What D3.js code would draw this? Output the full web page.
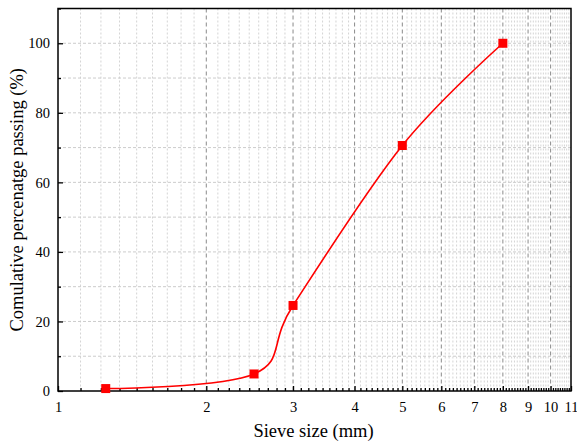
<!DOCTYPE html>
<html>
<head>
<meta charset="utf-8">
<script src="https://cdn.jsdelivr.net/npm/d3@7/dist/d3.min.js"></script>
<style>
  body { margin: 0; background: #fff; }
  svg { display: block; }
  text { font-family: "Liberation Serif", "Times New Roman", serif; fill: #000; }
</style>
</head>
<body>
<svg id="chart" width="577" height="445"></svg>
<script>
// Data
const sieveSizes = [1.25, 2.5, 3, 5, 8];
const passing = [0.7, 4.9, 24.6, 70.6, 100];
const xTickValues = [1, 2, 3, 4, 5, 6, 7, 8, 9, 10, 11];
const yTickValues = [0, 20, 40, 60, 80, 100];
const yMinorValues = [10, 30, 50, 70, 90, 110];
const xLabel = "Sieve size (mm)";
const yLabel = "Comulative percenatge passing (%)";

const W = 577, H = 445;
const margin = { left: 58, right: 6, top: 8.5, bottom: 54 };
const iw = W - margin.left - margin.right;
const ih = H - margin.top - margin.bottom;

const svg = d3.select("#chart");
const g = svg.append("g").attr("transform", `translate(${margin.left},${margin.top})`);

const x = d3.scaleLog().domain([1, 11]).range([0, iw]);
const y = d3.scaleLinear().domain([0, 110]).range([ih, 0]);

// minor x ticks: 8 per interval between integers
const xMinor = [];
for (let v = 1; v < 11; v++) for (let k = 1; k <= 8; k++) xMinor.push(v + k / 9);

// grid
g.append("g").selectAll("line").data(xMinor).join("line")
  .attr("x1", d => x(d)).attr("x2", d => x(d)).attr("y1", 0).attr("y2", ih)
  .attr("stroke", "#d4d4d4").attr("stroke-width", 1).attr("stroke-dasharray", "2,2");
g.append("g").selectAll("line").data(yTickValues.concat(yMinorValues).filter(d => d > 0 && d < 110)).join("line")
  .attr("x1", 0).attr("x2", iw).attr("y1", d => y(d)).attr("y2", d => y(d))
  .attr("stroke", "#cccccc").attr("stroke-width", 1).attr("stroke-dasharray", "3,2");
g.append("g").selectAll("line").data(xTickValues.filter(d => d > 1 && d < 11)).join("line")
  .attr("x1", d => x(d)).attr("x2", d => x(d)).attr("y1", 0).attr("y2", ih)
  .attr("stroke", "#8a8a8a").attr("stroke-width", 1).attr("stroke-dasharray", "4,3");

// axes
const xAxis = d3.axisBottom(x).tickValues(xTickValues).tickFormat(d3.format("d")).tickSizeInner(-5).tickSizeOuter(0).tickPadding(10.5);
const xAxisMinor = d3.axisBottom(x).tickValues(xMinor).tickFormat("").tickSizeInner(-3).tickSizeOuter(0);
const yAxis = d3.axisLeft(y).tickValues(yTickValues).tickFormat(d3.format("d")).tickSizeInner(-5).tickSizeOuter(0).tickPadding(8);
const yAxisMinor = d3.axisLeft(y).tickValues(yMinorValues).tickFormat("").tickSizeInner(-3).tickSizeOuter(0);

function styleAxis(sel) {
  sel.select(".domain").remove();
  sel.selectAll("line").attr("stroke", "#000").attr("stroke-width", 1.3);
  sel.selectAll("text").attr("font-size", 14.5).attr("font-family", '"Liberation Serif", serif');
}
g.append("g").attr("transform", `translate(0,${ih})`).call(xAxisMinor).call(styleAxis);
g.append("g").attr("transform", `translate(0,${ih})`).call(xAxis).call(styleAxis);
g.append("g").call(yAxisMinor).call(styleAxis);
g.append("g").call(yAxis).call(styleAxis);

// frame
g.append("rect").attr("x", 0).attr("y", 0).attr("width", iw).attr("height", ih)
  .attr("fill", "none").attr("stroke", "#000").attr("stroke-width", 1.5);

// curve
const pts = sieveSizes.map((s, i) => [s, passing[i]]);
const line = d3.line().x(d => x(d[0])).y(d => y(d[1])).curve(d3.curveCardinal.tension(0));
g.append("path").datum(pts).attr("d", line)
  .attr("fill", "none").attr("stroke", "#ff0000").attr("stroke-width", 1.6);

// markers
g.append("g").selectAll("rect").data(pts).join("rect")
  .attr("x", d => x(d[0]) - 4.5).attr("y", d => y(d[1]) - 4.5)
  .attr("width", 9).attr("height", 9).attr("fill", "#ff0000");

// labels
svg.append("text").attr("x", 313.5).attr("y", 437)
  .attr("text-anchor", "middle").attr("font-size", 18.5).text(xLabel);
svg.append("text").attr("transform", `translate(23,${margin.top + ih / 2}) rotate(-90)`)
  .attr("text-anchor", "middle").attr("font-size", 18.5).text(yLabel);
</script>
</body>
</html>
